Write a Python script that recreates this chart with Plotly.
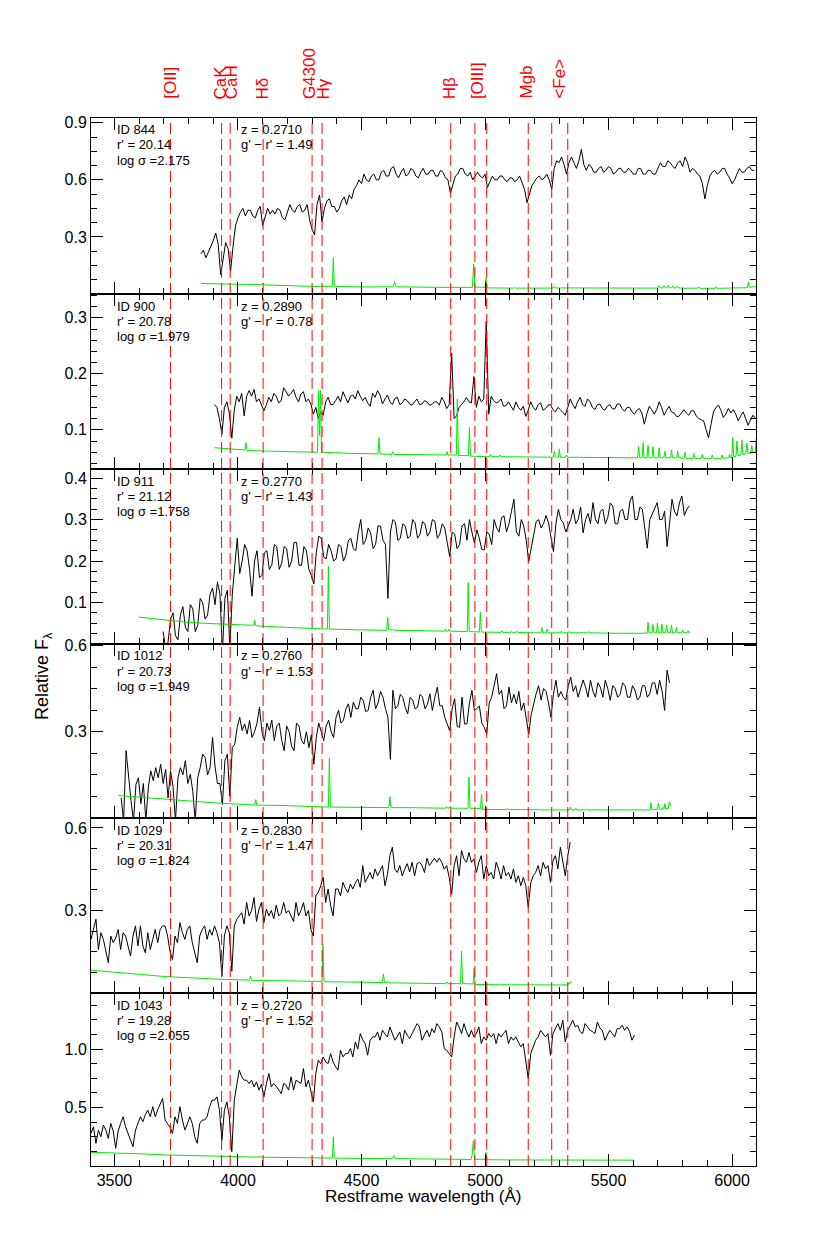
import plotly.graph_objects as go

FONT = "Liberation Sans, Arial, Helvetica, sans-serif"

# ---------------- feature lines ----------------
line_waves = [3727.0, 3933.7, 3968.5, 4101.7, 4300.0, 4340.5, 4861.3, 4959.0, 5007.0, 5175.0, 5270.0, 5335.0]
label_names = ["[OII]", "CaK", "CaH", "Hδ", "G4300", "Hγ", "Hβ", "[OIII]", "Mgb", "&lt;Fe&gt;"]
label_waves = [3724, 3929, 3973, 4099, 4290, 4348, 4855, 4970, 5166, 5298]

# ---------------- panel info ----------------
gal_ids = ["ID 844", "ID 900", "ID 911", "ID 1012", "ID 1029", "ID 1043"]
r_mags = ["20.14", "20.78", "21.12", "20.73", "20.31", "19.28"]
log_sigmas = ["2.175", "1.979", "1.758", "1.949", "1.824", "2.055"]
redshifts = ["0.2710", "0.2890", "0.2770", "0.2760", "0.2830", "0.2720"]
g_r = ["1.49", "0.78", "1.43", "1.53", "1.47", "1.52"]

# ---------------- spectra: start wavelength, 10 A sampling (10 values per 100 A row) ----------------
step = 10
start_844 = 3850
flux_844 = [
    0.21, 0.23, 0.19, 0.22, 0.25, 0.28, 0.32, 0.26, 0.10, 0.20,
    0.27, 0.24, 0.12, 0.25, 0.36, 0.40, 0.43, 0.45, 0.41, 0.44,
    0.44, 0.41, 0.40, 0.44, 0.46, 0.36, 0.41, 0.45, 0.42, 0.44,
    0.42, 0.45, 0.44, 0.40, 0.39, 0.43, 0.47, 0.44, 0.43, 0.46,
    0.47, 0.43, 0.44, 0.47, 0.39, 0.34, 0.31, 0.47, 0.52, 0.38,
    0.45, 0.49, 0.50, 0.46, 0.46, 0.43, 0.45, 0.49, 0.51, 0.47,
    0.52, 0.50, 0.55, 0.57, 0.60, 0.58, 0.63, 0.60, 0.59, 0.62,
    0.63, 0.60, 0.60, 0.64, 0.65, 0.62, 0.62, 0.66, 0.67, 0.63,
    0.61, 0.64, 0.66, 0.62, 0.63, 0.66, 0.65, 0.62, 0.61, 0.64,
    0.66, 0.63, 0.63, 0.65, 0.65, 0.62, 0.62, 0.65, 0.64, 0.61,
    0.60, 0.53, 0.57, 0.62, 0.63, 0.66, 0.66, 0.63, 0.62, 0.64,
    0.60, 0.62, 0.64, 0.62, 0.61, 0.63, 0.56, 0.59, 0.62, 0.60,
    0.60, 0.62, 0.62, 0.60, 0.59, 0.61, 0.61, 0.59, 0.60, 0.62,
    0.58, 0.55, 0.48, 0.52, 0.57, 0.59, 0.61, 0.62, 0.60, 0.61,
    0.63, 0.60, 0.55, 0.66, 0.70, 0.69, 0.72, 0.68, 0.63, 0.69,
    0.72, 0.69, 0.66, 0.70, 0.76, 0.68, 0.65, 0.68, 0.67, 0.64,
    0.64, 0.66, 0.67, 0.64, 0.65, 0.67, 0.66, 0.63, 0.64, 0.66,
    0.66, 0.64, 0.64, 0.66, 0.65, 0.63, 0.63, 0.66, 0.66, 0.63,
    0.63, 0.65, 0.65, 0.63, 0.63, 0.66, 0.69, 0.67, 0.67, 0.70,
    0.69, 0.67, 0.66, 0.69, 0.70, 0.67, 0.72, 0.69, 0.64, 0.66,
    0.65, 0.63, 0.62, 0.58, 0.50, 0.57, 0.62, 0.64, 0.65, 0.63,
    0.64, 0.66, 0.66, 0.63, 0.61, 0.58, 0.60, 0.63, 0.66, 0.64,
    0.64, 0.66, 0.67, 0.65, 0.65,
]
start_900 = 3905
flux_900 = [
    0.145, 0.140, 0.120, 0.092, 0.140, 0.150, 0.130, 0.085, 0.135, 0.160,
    0.150, 0.165, 0.125, 0.160, 0.170, 0.160, 0.172, 0.150, 0.155, 0.145,
    0.134, 0.145, 0.158, 0.150, 0.165, 0.160, 0.148, 0.152, 0.175, 0.168,
    0.160, 0.165, 0.172, 0.158, 0.150, 0.164, 0.168, 0.150, 0.155, 0.146,
    0.128, 0.140, 0.120, 0.132, 0.126, 0.150, 0.158, 0.145, 0.145, 0.152,
    0.160, 0.150, 0.168, 0.158, 0.148, 0.160, 0.162, 0.155, 0.170, 0.160,
    0.152, 0.158, 0.148, 0.142, 0.165, 0.158, 0.170, 0.162, 0.146, 0.155,
    0.162, 0.150, 0.145, 0.156, 0.158, 0.145, 0.148, 0.155, 0.152, 0.146,
    0.144, 0.150, 0.155, 0.145, 0.146, 0.152, 0.150, 0.144, 0.145, 0.150,
    0.150, 0.144, 0.158, 0.150, 0.138, 0.145, 0.237, 0.120, 0.125, 0.140,
    0.145, 0.150, 0.158, 0.150, 0.148, 0.195, 0.140, 0.160, 0.150, 0.155,
    0.294, 0.128, 0.160, 0.152, 0.148, 0.150, 0.155, 0.142, 0.143, 0.150,
    0.142, 0.135, 0.150, 0.140, 0.135, 0.142, 0.124, 0.135, 0.150, 0.140,
    0.135, 0.145, 0.148, 0.135, 0.138, 0.144, 0.145, 0.136, 0.132, 0.140,
    0.136, 0.130, 0.126, 0.140, 0.155, 0.145, 0.138, 0.150, 0.158, 0.145,
    0.142, 0.155, 0.150, 0.140, 0.136, 0.145, 0.146, 0.138, 0.135, 0.142,
    0.145, 0.138, 0.137, 0.146, 0.146, 0.138, 0.133, 0.140, 0.140, 0.132,
    0.128, 0.135, 0.138, 0.130, 0.110, 0.128, 0.142, 0.136, 0.128, 0.136,
    0.150, 0.140, 0.126, 0.135, 0.142, 0.132, 0.130, 0.124, 0.124, 0.130,
    0.136, 0.130, 0.126, 0.134, 0.134, 0.125, 0.120, 0.118, 0.116, 0.100,
    0.086, 0.110, 0.132, 0.140, 0.144, 0.135, 0.122, 0.128, 0.138, 0.130,
    0.136, 0.128, 0.116, 0.125, 0.132, 0.120, 0.108, 0.118, 0.126, 0.120,
]
start_911 = 3697
flux_911 = [
    0.030, -0.010, 0.005, 0.060, 0.075, 0.020, 0.010, 0.070, 0.090, 0.040,
    0.030, 0.095, 0.085, 0.030, 0.045, 0.110, 0.100, 0.060, 0.070, 0.120,
    0.135, 0.095, 0.150, 0.120, -0.020, 0.110, 0.130, -0.010, 0.120, 0.190,
    0.255, 0.170, 0.200, 0.240, 0.225, 0.180, 0.115, 0.200, 0.225, 0.160,
    0.165, 0.220, 0.225, 0.180, 0.190, 0.240, 0.235, 0.180, 0.195, 0.235,
    0.230, 0.185, 0.200, 0.245, 0.245, 0.190, 0.190, 0.235, 0.225, 0.180,
    0.165, 0.145, 0.220, 0.260, 0.255, 0.210, 0.205, 0.240, 0.225, 0.200,
    0.205, 0.240, 0.235, 0.200, 0.215, 0.250, 0.255, 0.230, 0.225, 0.270,
    0.300, 0.240, 0.250, 0.280, 0.268, 0.230, 0.240, 0.285, 0.284, 0.250,
    0.240, 0.110, 0.270, 0.300, 0.295, 0.250, 0.255, 0.290, 0.285, 0.255,
    0.260, 0.300, 0.292, 0.255, 0.265, 0.295, 0.290, 0.260, 0.270, 0.300,
    0.296, 0.255, 0.265, 0.290, 0.280, 0.245, 0.211, 0.270, 0.265, 0.230,
    0.240, 0.285, 0.290, 0.250, 0.300, 0.270, 0.244, 0.275, 0.255, 0.228,
    0.227, 0.270, 0.265, 0.240, 0.300, 0.280, 0.270, 0.305, 0.309, 0.270,
    0.290, 0.320, 0.349, 0.270, 0.260, 0.300, 0.284, 0.250, 0.199, 0.230,
    0.260, 0.295, 0.300, 0.280, 0.290, 0.310, 0.292, 0.260, 0.223, 0.290,
    0.325, 0.300, 0.292, 0.270, 0.284, 0.300, 0.325, 0.290, 0.300, 0.330,
    0.268, 0.300, 0.315, 0.290, 0.341, 0.300, 0.290, 0.320, 0.325, 0.290,
    0.305, 0.340, 0.333, 0.290, 0.290, 0.320, 0.325, 0.300, 0.300, 0.345,
    0.357, 0.300, 0.300, 0.330, 0.325, 0.280, 0.231, 0.300, 0.315, 0.330,
    0.341, 0.300, 0.300, 0.320, 0.235, 0.290, 0.349, 0.320, 0.309, 0.340,
    0.357, 0.310, 0.325, 0.333,
]
start_1012 = 3527
flux_1012 = [
    0.070, -0.010, 0.234, 0.140, 0.060, -0.010, 0.117, 0.140, 0.050, 0.120,
    -0.010, 0.105, 0.164, 0.130, 0.175, 0.140, 0.187, 0.120, 0.169, 0.070,
    0.164, 0.110, -0.010, 0.140, 0.175, 0.150, 0.199, 0.120, 0.152, 0.093,
    -0.010, 0.140, 0.175, 0.222, 0.210, 0.150, 0.175, 0.280, 0.180, 0.120,
    0.120, 0.047, 0.199, 0.222, 0.076, 0.245, 0.257, 0.315, 0.350, 0.304,
    0.327, 0.292, 0.339, 0.280, 0.300, 0.330, 0.385, 0.300, 0.269, 0.330,
    0.304, 0.340, 0.269, 0.320, 0.330, 0.270, 0.234, 0.320, 0.300, 0.250,
    0.234, 0.330, 0.320, 0.270, 0.257, 0.300, 0.245, 0.290, 0.187, 0.280,
    0.330, 0.300, 0.269, 0.320, 0.340, 0.300, 0.280, 0.350, 0.374, 0.330,
    0.340, 0.380, 0.397, 0.350, 0.403, 0.380, 0.380, 0.420, 0.409, 0.370,
    0.374, 0.420, 0.444, 0.380, 0.400, 0.440, 0.420, 0.380, 0.350, 0.204,
    0.444, 0.380, 0.390, 0.430, 0.420, 0.385, 0.362, 0.420, 0.410, 0.380,
    0.385, 0.430, 0.420, 0.380, 0.395, 0.432, 0.374, 0.420, 0.455, 0.390,
    0.390, 0.350, 0.330, 0.304, 0.380, 0.415, 0.320, 0.315, 0.420, 0.327,
    0.327, 0.400, 0.444, 0.374, 0.380, 0.390, 0.330, 0.315, 0.292, 0.400,
    0.420, 0.460, 0.502, 0.430, 0.444, 0.380, 0.390, 0.455, 0.400, 0.430,
    0.397, 0.440, 0.374, 0.400, 0.350, 0.292, 0.360, 0.400, 0.432, 0.460,
    0.410, 0.450, 0.440, 0.400, 0.350, 0.430, 0.479, 0.420, 0.440, 0.420,
    0.410, 0.460, 0.490, 0.440, 0.460, 0.420, 0.455, 0.480, 0.455, 0.420,
    0.479, 0.440, 0.420, 0.470, 0.455, 0.420, 0.479, 0.450, 0.409, 0.460,
    0.450, 0.420, 0.430, 0.470, 0.460, 0.420, 0.420, 0.460, 0.444, 0.410,
    0.420, 0.460, 0.460, 0.420, 0.432, 0.470, 0.470, 0.430, 0.479, 0.440,
    0.374, 0.514, 0.470,
]
start_1029 = 3405
flux_1029 = [
    0.195, 0.231, 0.268, 0.158, 0.219, 0.195, 0.150, 0.110, 0.207, 0.183,
    0.200, 0.231, 0.158, 0.219, 0.207, 0.171, 0.134, 0.207, 0.244, 0.171,
    0.244, 0.171, 0.146, 0.219, 0.158, 0.195, 0.231, 0.183, 0.231, 0.244,
    0.244, 0.207, 0.150, 0.122, 0.207, 0.183, 0.256, 0.219, 0.195, 0.231,
    0.244, 0.183, 0.150, 0.110, 0.207, 0.230, 0.244, 0.195, 0.231, 0.210,
    0.244, 0.219, 0.183, 0.061, 0.207, 0.244, 0.220, 0.079, 0.244, 0.268,
    0.280, 0.292, 0.250, 0.329, 0.280, 0.300, 0.347, 0.260, 0.305, 0.329,
    0.256, 0.305, 0.280, 0.300, 0.270, 0.320, 0.280, 0.290, 0.329, 0.290,
    0.300, 0.280, 0.260, 0.329, 0.280, 0.300, 0.329, 0.280, 0.300, 0.231,
    0.207, 0.353, 0.366, 0.390, 0.420, 0.329, 0.378, 0.317, 0.280, 0.378,
    0.378, 0.353, 0.402, 0.380, 0.365, 0.396, 0.378, 0.400, 0.414, 0.384,
    0.463, 0.402, 0.420, 0.438, 0.414, 0.451, 0.426, 0.445, 0.463, 0.390,
    0.430, 0.499, 0.530, 0.450, 0.438, 0.463, 0.426, 0.450, 0.470, 0.440,
    0.475, 0.426, 0.470, 0.475, 0.463, 0.438, 0.490, 0.463, 0.475, 0.490,
    0.475, 0.490, 0.475, 0.450, 0.463, 0.420, 0.359, 0.463, 0.499, 0.426,
    0.518, 0.487, 0.475, 0.511, 0.475, 0.487, 0.438, 0.475, 0.499, 0.414,
    0.463, 0.426, 0.438, 0.414, 0.475, 0.451, 0.414, 0.463, 0.426, 0.438,
    0.414, 0.451, 0.402, 0.426, 0.390, 0.420, 0.390, 0.311, 0.400, 0.426,
    0.438, 0.463, 0.426, 0.475, 0.451, 0.463, 0.402, 0.480, 0.499, 0.451,
    0.530, 0.475, 0.426, 0.499, 0.548,
]
start_1043 = 3405
flux_1043 = [
    0.279, 0.336, 0.194, 0.307, 0.250, 0.350, 0.307, 0.236, 0.364, 0.300,
    0.151, 0.300, 0.364, 0.421, 0.336, 0.279, 0.210, 0.165, 0.307, 0.364,
    0.421, 0.378, 0.440, 0.478, 0.421, 0.507, 0.421, 0.480, 0.535, 0.578,
    0.393, 0.364, 0.330, 0.279, 0.421, 0.364, 0.507, 0.393, 0.307, 0.360,
    0.421, 0.364, 0.250, 0.194, 0.364, 0.393, 0.393, 0.421, 0.507, 0.563,
    0.563, 0.592, 0.478, 0.222, 0.478, 0.549, 0.421, 0.122, 0.563, 0.692,
    0.820, 0.763, 0.734, 0.734, 0.706, 0.734, 0.677, 0.720, 0.649, 0.700,
    0.592, 0.706, 0.791, 0.677, 0.706, 0.680, 0.649, 0.620, 0.706, 0.690,
    0.649, 0.763, 0.649, 0.734, 0.720, 0.706, 0.834, 0.677, 0.734, 0.649,
    0.549, 0.791, 0.905, 0.876, 0.933, 0.890, 0.876, 0.962, 0.891, 0.850,
    0.820, 0.990, 0.933, 0.962, 0.962, 1.005, 0.933, 1.061, 1.000, 1.133,
    1.080, 1.047, 0.948, 1.076, 1.104, 1.104, 1.147, 1.076, 1.161, 1.130,
    1.104, 1.190, 1.133, 1.076, 1.110, 1.147, 1.047, 1.161, 1.120, 1.090,
    1.133, 1.180, 1.218, 1.190, 1.076, 1.120, 1.161, 1.104, 1.175, 1.140,
    1.218, 1.190, 1.147, 1.005, 0.991, 0.960, 0.933, 1.104, 1.232, 1.190,
    1.133, 1.218, 1.150, 1.104, 1.161, 1.104, 1.133, 1.190, 1.047, 1.104,
    1.076, 1.133, 1.104, 1.133, 1.047, 1.133, 1.104, 1.133, 1.161, 1.047,
    1.104, 1.076, 1.104, 1.060, 1.019, 1.047, 0.905, 0.749, 0.962, 1.020,
    1.076, 1.104, 1.161, 1.130, 1.104, 1.133, 0.948, 1.133, 1.180, 1.218,
    1.161, 1.247, 1.061, 1.161, 1.200, 1.247, 1.190, 1.204, 1.150, 1.133,
    1.218, 1.190, 1.161, 1.150, 1.133, 1.232, 1.180, 1.161, 1.076, 1.120,
    1.161, 1.133, 1.104, 1.175, 1.175, 1.204, 1.161, 1.190, 1.150, 1.076,
    1.120,
]

# ---------------- sky / error spectra (green), (wavelength, value) ----------------
sky_844 = [(3850, 0.055), (4000, 0.050), (4097, 0.049), (4102, 0.058), (4107, 0.048), (4300, 0.040),
           (4382, 0.040), (4386, 0.190), (4390, 0.040), (4500, 0.037), (4628, 0.038), (4634, 0.065),
           (4640, 0.038), (4800, 0.035), (4949, 0.035), (4954, 0.158), (4959, 0.036), (5000, 0.035),
           (5004, 0.084), (5008, 0.032), (5100, 0.031), (5116, 0.031), (5120, 0.035), (5124, 0.031),
           (5275, 0.031), (5280, 0.040), (5285, 0.032), (5400, 0.031), (5560, 0.030), (5700, 0.031),
           (5705, 0.045), (5710, 0.032), (5720, 0.032), (5725, 0.043), (5730, 0.032), (5737, 0.032),
           (5742, 0.045), (5747, 0.033), (5755, 0.032), (5760, 0.042), (5765, 0.032), (5773, 0.032),
           (5778, 0.040), (5783, 0.032), (5796, 0.031), (5800, 0.036), (5804, 0.030), (5862, 0.031),
           (5866, 0.037), (5870, 0.030), (5932, 0.030), (5936, 0.038), (5940, 0.030), (6000, 0.031),
           (6030, 0.031), (6062, 0.033), (6066, 0.063), (6070, 0.036), (6098, 0.038)]
sky_900 = [(3905, 0.068), (4028, 0.064), (4032, 0.077), (4036, 0.063), (4200, 0.061), (4300, 0.060),
           (4322, 0.060), (4326, 0.170), (4330, 0.090), (4334, 0.170), (4338, 0.060), (4450, 0.058),
           (4567, 0.057), (4571, 0.086), (4575, 0.057), (4622, 0.056), (4626, 0.061), (4630, 0.056),
           (4800, 0.055), (4842, 0.055), (4846, 0.061), (4850, 0.055), (4884, 0.055), (4888, 0.155),
           (4892, 0.054), (4933, 0.054), (4937, 0.104), (4941, 0.053), (5000, 0.052), (5018, 0.052),
           (5022, 0.056), (5026, 0.052), (5056, 0.052), (5060, 0.055), (5064, 0.052), (5277, 0.051),
           (5281, 0.062), (5285, 0.051), (5297, 0.051), (5301, 0.066), (5305, 0.051), (5326, 0.051),
           (5330, 0.055), (5334, 0.051), (5600, 0.050), (5618, 0.050), (5622, 0.070), (5626, 0.050),
           (5636, 0.050), (5640, 0.077), (5644, 0.050), (5656, 0.050), (5660, 0.072), (5664, 0.050),
           (5676, 0.050), (5680, 0.070), (5684, 0.050), (5701, 0.050), (5705, 0.068), (5709, 0.050),
           (5724, 0.050), (5728, 0.062), (5732, 0.050), (5751, 0.050), (5755, 0.064), (5759, 0.050),
           (5776, 0.050), (5780, 0.062), (5784, 0.050), (5806, 0.049), (5810, 0.060), (5814, 0.049),
           (5841, 0.049), (5845, 0.058), (5849, 0.049), (5876, 0.049), (5880, 0.056), (5884, 0.049),
           (5916, 0.049), (5920, 0.055), (5924, 0.049), (5956, 0.049), (5960, 0.055), (5964, 0.049),
           (5986, 0.050), (5990, 0.056), (5994, 0.050), (5999, 0.051), (6003, 0.086), (6007, 0.052),
           (6016, 0.053), (6020, 0.080), (6024, 0.054), (6036, 0.055), (6040, 0.082), (6044, 0.056),
           (6056, 0.057), (6060, 0.076), (6064, 0.058), (6076, 0.058), (6080, 0.072), (6084, 0.059),
           (6094, 0.060), (6098, 0.085)]
sky_911 = [(3597, 0.065), (3700, 0.058), (3800, 0.052), (3900, 0.049), (4000, 0.046), (4064, 0.045),
           (4068, 0.057), (4072, 0.044), (4200, 0.040), (4300, 0.037), (4362, 0.036), (4366, 0.187),
           (4370, 0.036), (4500, 0.034), (4602, 0.033), (4606, 0.065), (4610, 0.034), (4626, 0.034),
           (4630, 0.036), (4634, 0.033), (4800, 0.031), (4836, 0.031), (4840, 0.036), (4844, 0.031),
           (4851, 0.031), (4855, 0.036), (4859, 0.031), (4928, 0.030), (4932, 0.148), (4936, 0.030),
           (4977, 0.029), (4981, 0.076), (4985, 0.029), (5064, 0.028), (5068, 0.032), (5072, 0.028),
           (5104, 0.028), (5108, 0.030), (5112, 0.028), (5124, 0.028), (5128, 0.031), (5132, 0.028),
           (5200, 0.027), (5226, 0.027), (5230, 0.040), (5234, 0.027), (5248, 0.027), (5252, 0.036),
           (5256, 0.027), (5306, 0.027), (5310, 0.031), (5314, 0.027), (5336, 0.027), (5340, 0.030),
           (5344, 0.027), (5416, 0.027), (5420, 0.030), (5424, 0.027), (5500, 0.026), (5656, 0.026),
           (5660, 0.052), (5664, 0.027), (5676, 0.027), (5680, 0.047), (5684, 0.027), (5694, 0.027),
           (5698, 0.050), (5702, 0.027), (5712, 0.027), (5716, 0.048), (5720, 0.027), (5731, 0.027),
           (5735, 0.046), (5739, 0.027), (5751, 0.027), (5755, 0.045), (5759, 0.027), (5771, 0.027),
           (5775, 0.040), (5779, 0.027), (5796, 0.027), (5800, 0.034), (5804, 0.027), (5818, 0.027),
           (5822, 0.032), (5826, 0.027), (5830, 0.030)]
sky_1012 = [(3516, 0.078), (3600, 0.072), (3700, 0.066), (3800, 0.060), (3900, 0.053), (4000, 0.048),
            (4068, 0.045), (4072, 0.064), (4076, 0.045), (4200, 0.043), (4300, 0.040), (4366, 0.038),
            (4370, 0.208), (4374, 0.038), (4500, 0.037), (4611, 0.036), (4615, 0.074), (4619, 0.036),
            (4700, 0.036), (4800, 0.034), (4840, 0.034), (4844, 0.040), (4848, 0.034), (4854, 0.034),
            (4858, 0.040), (4862, 0.034), (4931, 0.034), (4935, 0.142), (4939, 0.034), (4982, 0.033),
            (4986, 0.082), (4990, 0.030), (5050, 0.029), (5086, 0.029), (5090, 0.033), (5094, 0.029),
            (5150, 0.029), (5200, 0.029), (5211, 0.029), (5215, 0.032), (5219, 0.028), (5260, 0.028),
            (5342, 0.028), (5346, 0.038), (5350, 0.028), (5364, 0.028), (5368, 0.034), (5372, 0.028),
            (5406, 0.028), (5410, 0.031), (5414, 0.028), (5450, 0.028), (5454, 0.030), (5458, 0.028),
            (5600, 0.027), (5668, 0.028), (5672, 0.053), (5676, 0.030), (5698, 0.030), (5702, 0.052),
            (5706, 0.031), (5718, 0.031), (5722, 0.038), (5725, 0.032), (5728, 0.050), (5732, 0.032),
            (5742, 0.033), (5746, 0.056), (5752, 0.045)]
sky_1029 = [(3404, 0.083), (3420, 0.082), (3500, 0.076), (3600, 0.068), (3700, 0.060), (3800, 0.055),
            (3883, 0.052), (3887, 0.056), (3891, 0.051), (4000, 0.048), (4047, 0.047), (4051, 0.061),
            (4055, 0.046), (4200, 0.044), (4300, 0.043), (4340, 0.042), (4344, 0.177), (4348, 0.041),
            (4450, 0.040), (4585, 0.038), (4589, 0.069), (4593, 0.038), (4604, 0.038), (4608, 0.042),
            (4612, 0.037), (4700, 0.036), (4842, 0.034), (4846, 0.040), (4850, 0.034), (4901, 0.034),
            (4905, 0.152), (4909, 0.034), (4952, 0.033), (4956, 0.091), (4960, 0.031), (5050, 0.030),
            (5056, 0.030), (5060, 0.033), (5064, 0.030), (5104, 0.030), (5108, 0.033), (5112, 0.030),
            (5200, 0.029), (5300, 0.029), (5316, 0.029), (5320, 0.032), (5324, 0.029), (5336, 0.029),
            (5340, 0.038), (5344, 0.034), (5347, 0.043)]
sky_1043 = [(3404, 0.117), (3500, 0.112), (3600, 0.105), (3700, 0.095), (3800, 0.088), (3900, 0.084),
            (4000, 0.080), (4084, 0.076), (4088, 0.086), (4092, 0.075), (4200, 0.072), (4300, 0.070),
            (4382, 0.068), (4386, 0.250), (4390, 0.067), (4500, 0.065), (4624, 0.062), (4628, 0.080),
            (4631, 0.090), (4636, 0.063), (4800, 0.058), (4944, 0.056), (4948, 0.100), (4953, 0.216),
            (4957, 0.058), (5000, 0.057), (5004, 0.117), (5008, 0.054), (5100, 0.052), (5272, 0.051),
            (5276, 0.056), (5280, 0.051), (5392, 0.050), (5396, 0.056), (5400, 0.050), (5456, 0.050),
            (5460, 0.053), (5464, 0.050), (5602, 0.050)]

# ---------------- axes values ----------------
x_range = [3405, 6097]
x_major = [3500, 4000, 4500, 5000, 5500, 6000]
y_ranges = [[0.0, 0.925], [0.03, 0.3425], [0.0, 0.422], [0.0, 0.605], [0.0, 0.636], [0.0, 1.48]]
y_major = [[0.3, 0.6, 0.9], [0.1, 0.2, 0.3], [0.1, 0.2, 0.3, 0.4], [0.3, 0.6], [0.3, 0.6], [0.5, 1.0]]
y_major_text = [["0.3", "0.6", "0.9"], ["0.1", "0.2", "0.3"], ["0.1", "0.2", "0.3", "0.4"],
                ["0.3", "0.6"], ["0.3", "0.6"], ["0.5", "1.0"]]
y_minor_step = [0.075, 0.02, 0.025, 0.075, 0.075, 0.125]

spectra = [(start_844, flux_844), (start_900, flux_900), (start_911, flux_911),
           (start_1012, flux_1012), (start_1029, flux_1029), (start_1043, flux_1043)]
skies = [sky_844, sky_900, sky_911, sky_1012, sky_1029, sky_1043]

# ---------------- layout geometry (pixels) ----------------
W, H = 830, 1247
TOP, BOT = 110, 1158
panel_edges = [110, 286, 461, 636, 810, 985, 1158]
PLOT_H = BOT - TOP
PLOT_W = 665


def py(y):
    return (BOT - y) / PLOT_H


def px(x):
    return (x - 83) / PLOT_W


fig = go.Figure()
layout = dict()
shapes = []
annotations = []

x_minor = [v for v in range(3500, 6100, 100) if v not in x_major]

for i in range(6):
    n = i + 1
    xname = "x" if n == 1 else f"x{n}"
    yname = "y" if n == 1 else f"y{n}"
    xkey = "xaxis" if n == 1 else f"xaxis{n}"
    ykey = "yaxis" if n == 1 else f"yaxis{n}"

    st, fl = spectra[i]
    wl = [st + step * k for k in range(len(fl))]
    fig.add_trace(go.Scatter(x=wl, y=fl, mode="lines", line=dict(color="black", width=1),
                             xaxis=xname, yaxis=yname, showlegend=False, hoverinfo="skip"))
    sky = skies[i]
    fig.add_trace(go.Scatter(x=[p[0] for p in sky], y=[p[1] for p in sky], mode="lines",
                             line=dict(color="rgb(0,235,0)", width=1),
                             xaxis=xname, yaxis=yname, showlegend=False, hoverinfo="skip"))

    y_top = py(panel_edges[i])
    y_bot = py(panel_edges[i + 1])

    layout[xkey] = dict(
        domain=[0, 1], anchor=yname, range=x_range, showline=True, linecolor="black", linewidth=1,
        mirror="ticks", ticks="inside", ticklen=12, tickwidth=1, tickcolor="black",
        tickmode="array", tickvals=x_major, ticktext=[str(v) for v in x_major],
        showticklabels=(n == 6), showgrid=False, zeroline=False,
        tickfont=dict(family=FONT, size=16, color="black"),
        minor=dict(ticks="inside", ticklen=6, tickwidth=1, tickcolor="black",
                   tickmode="array", tickvals=x_minor, showgrid=False),
    )
    lo, hi = y_ranges[i]
    ms = y_minor_step[i]
    ymin_vals = []
    k = 1
    while k * ms < hi:
        if k * ms > lo:
            ymin_vals.append(round(k * ms, 4))
        k += 1
    layout[ykey] = dict(
        domain=[y_bot, y_top], anchor=xname, range=[lo, hi], showline=True, linecolor="black", linewidth=1,
        mirror="ticks", ticks="inside", ticklen=12, tickwidth=1, tickcolor="black",
        tickmode="array", tickvals=y_major[i], ticktext=y_major_text[i],
        showgrid=False, zeroline=False, tickfont=dict(family=FONT, size=16, color="black"),
        minor=dict(ticks="inside", ticklen=6, tickwidth=1, tickcolor="black",
                   tickmode="array", tickvals=ymin_vals, showgrid=False),
    )

    for w in line_waves:
        shapes.append(dict(type="line", xref=xname, yref=f"{yname} domain", x0=w, x1=w, y0=0, y1=1,
                           line=dict(color="rgb(255,0,0)", width=1, dash="11px,5px"), layer="above"))

    ptop = panel_edges[i]
    col1 = [gal_ids[i], f"r' = {r_mags[i]}", f"log σ ={log_sigmas[i]}"]
    col2 = [f"z = {redshifts[i]}", f"g' − r' = {g_r[i]}"]
    for j, t in enumerate(col1):
        annotations.append(dict(text=t, xref="paper", yref="paper", x=px(107), y=py(ptop + 12 + 15 * j),
                                xanchor="left", yanchor="middle", showarrow=False,
                                font=dict(family=FONT, size=13, color="black")))
    for j, t in enumerate(col2):
        annotations.append(dict(text=t, xref="paper", yref="paper", x=px(231), y=py(ptop + 12 + 15 * j),
                                xanchor="left", yanchor="middle", showarrow=False,
                                font=dict(family=FONT, size=13, color="black")))

# header labels
for name, w in zip(label_names, label_waves):
    xp = (w - x_range[0]) / (x_range[1] - x_range[0])
    annotations.append(dict(text=name, xref="paper", yref="paper", x=xp, y=py(93), xanchor="center",
                            yanchor="bottom", textangle=-90, showarrow=False,
                            font=dict(family=FONT, size=17, color="rgb(255,0,0)")))

# axis titles
annotations.append(dict(text="Relative F<sub>λ</sub>", xref="paper", yref="paper", x=px(35), y=py(668),
                        xanchor="center", yanchor="middle", textangle=-90, showarrow=False,
                        font=dict(family=FONT, size=18, color="black")))
annotations.append(dict(text="Restframe wavelength (Å)", xref="paper", yref="paper", x=px(415), y=py(1188),
                        xanchor="center", yanchor="middle", showarrow=False,
                        font=dict(family=FONT, size=17, color="black")))

fig.update_layout(
    width=W, height=H, margin=dict(l=83, r=82, t=110, b=89, pad=0),
    paper_bgcolor="white", plot_bgcolor="white", showlegend=False,
    shapes=shapes, annotations=annotations, **layout,
)

fig.write_html("out.html")
